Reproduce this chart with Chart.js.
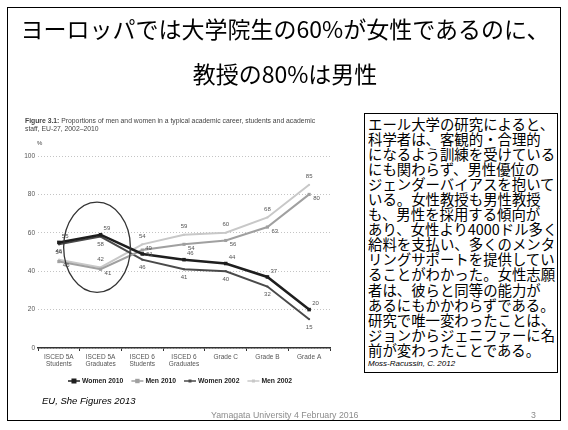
<!DOCTYPE html>
<html><head><meta charset="utf-8">
<script src="https://cdn.jsdelivr.net/npm/chart.js@4/dist/chart.umd.min.js"></script>
<style>
html,body{margin:0;padding:0;background:#fff;}
#slide{position:relative;width:568px;height:430px;overflow:hidden;font-family:"Noto Sans CJK JP","Noto Sans",sans-serif;}
#c{position:absolute;left:0;top:0;}
#frame{position:absolute;left:7px;top:7px;width:554px;height:414px;border:1.5px solid #000;box-sizing:border-box;}
.t{position:absolute;left:7px;width:556px;text-align:center;font-size:23px;color:#000;line-height:1;white-space:nowrap;}
#cap{position:absolute;left:25px;top:117px;font-family:"Liberation Sans",sans-serif;font-size:6.8px;line-height:7.5px;color:#444;white-space:nowrap;}
#pct{position:absolute;left:37px;top:140px;font-family:"Liberation Sans",sans-serif;font-size:6px;color:#444;}
#box{position:absolute;left:364px;top:113px;width:194px;height:260px;border:1px solid #000;box-sizing:border-box;padding:1.5px 0 0 3px;background:#fff;}
#box .jp{font-size:14.4px;line-height:15.1px;white-space:nowrap;color:#000;}
#box .cite{font-family:"Liberation Sans",sans-serif;font-style:italic;font-size:8px;color:#000;margin-top:2px;}
#src{position:absolute;left:42px;top:395px;font-family:"Liberation Sans",sans-serif;font-style:italic;font-size:9.5px;color:#000;}
#foot{position:absolute;left:211px;top:410px;font-family:"Liberation Sans",sans-serif;font-size:8.8px;color:#8c8c8c;}
#pg{position:absolute;left:531px;top:410px;font-family:"Liberation Sans",sans-serif;font-size:8.8px;color:#8c8c8c;}
</style></head>
<body><div id="slide">
<canvas id="c" width="568" height="430"></canvas>
<div id="frame"></div>
<div class="t" style="top:17px">ヨーロッパでは大学院生の60%が女性であるのに、</div>
<div class="t" style="top:62px">教授の80%は男性</div>
<div id="cap"><b>Figure 3.1:</b> Proportions of men and women in a typical academic career, students and academic<br>staff, EU-27, 2002–2010</div>
<div id="pct">%</div>
<div id="box"><div class="jp">エール大学の研究によると、<br>科学者は、客観的・合理的<br>になるよう訓練を受けている<br>にも関わらず、男性優位の<br>ジェンダーバイアスを抱いて<br>いる。女性教授も男性教授<br>も、男性を採用する傾向が<br>あり、女性より4000ドル多く<br>給料を支払い、多くのメンタ<br>リングサポートを提供してい<br>ることがわかった。女性志願<br>者は、彼らと同等の能力が<br>あるにもかかわらずである。<br>研究で唯一変わったことは、<br>ジョンからジェニファーに名<br>前が変わったことである。</div><div class="cite">Moss-Racussin, C. 2012</div></div>
<div id="src">EU, She Figures 2013</div>
<div id="foot">Yamagata University 4 February 2016</div>
<div id="pg">3</div>
</div>
<script>
const categories = [["ISCED 5A","Students"],["ISCED 5A","Graduates"],["ISCED 6","Students"],["ISCED 6","Graduates"],"Grade C","Grade B","Grade A"];
const seriesNames = ["Women 2010","Men 2010","Women 2002","Men 2002"];
const women2010 = [55,59,49,46,44,37,20];
const men2010 = [45,41,51,54,56,63,80];
const women2002 = [54,58,46,41,40,32,15];
const men2002 = [46,42,54,59,60,68,85];
const yMin = 0, yMax = 100, yStep = 20;

const styles = [
  {color:'#1e1e1e', width:2.5, r:2.5, fill:'#1e1e1e', lab:{align:'left', dx:3, dy:-6}},
  {color:'#a0a0a0', width:2, r:2.2, fill:'#a0a0a0', lab:{align:'left', dx:4, dy:4}},
  {color:'#4a4a4a', width:2, r:1.3, fill:'#4a4a4a', lab:{align:'center', dx:0, dy:8}},
  {color:'#c8c8c8', width:2, r:1.3, fill:'#c8c8c8', lab:{align:'center', dx:0, dy:-8}}
];
const values = [women2010, men2010, women2002, men2002];

const datasets = values.map((v,i)=>({
  label: seriesNames[i], data: v,
  borderColor: styles[i].color, backgroundColor: styles[i].fill,
  borderWidth: styles[i].width, pointStyle:'rect', pointRadius: styles[i].r,
  pointBorderWidth: 0, tension: 0, order: i
}));

const labelPlugin = {
  id:'labels',
  afterDatasetsDraw(chart){
    const ctx = chart.ctx;
    ctx.save();
    ctx.font = '6px "Liberation Sans", sans-serif';
    ctx.fillStyle = '#555';
    ctx.textBaseline = 'middle';
    chart.data.datasets.forEach((ds,i)=>{
      const meta = chart.getDatasetMeta(i);
      const L = styles[i].lab;
      ctx.textAlign = L.align;
      meta.data.forEach((pt,j)=>{
        ctx.fillText(String(ds.data[j]), pt.x + L.dx, pt.y + L.dy);
      });
    });
    ctx.restore();
  }
};

const ellipsePlugin = {
  id:'ellipse',
  afterDatasetsDraw(chart){
    const xs = chart.scales.x, ys = chart.scales.y;
    const slot = xs.getPixelForValue(1) - xs.getPixelForValue(0);
    const cx = xs.getPixelForValue(1) - 0.085*slot;
    const rx = 0.8*slot;
    const top = ys.getPixelForValue(76), bot = ys.getPixelForValue(29);
    const ctx = chart.ctx;
    ctx.save();
    ctx.strokeStyle = '#333'; ctx.lineWidth = 1.3;
    ctx.beginPath();
    ctx.ellipse(cx, (top+bot)/2, rx, (bot-top)/2, 0, 0, Math.PI*2);
    ctx.stroke();
    ctx.restore();
  }
};

const legendPlugin = {
  id:'mylegend',
  afterDraw(chart){
    const ctx = chart.ctx, ca = chart.chartArea;
    ctx.save();
    ctx.font = 'bold 6.8px "Liberation Sans", sans-serif';
    const lineW = 12, gap = 2, sep = 8;
    const widths = seriesNames.map(n => lineW + gap + ctx.measureText(n).width);
    const total = widths.reduce((a,b)=>a+b,0) + sep*(seriesNames.length-1);
    let x = (ca.left + ca.right)/2 - 4 - total/2;
    const y = ca.bottom + 33;
    seriesNames.forEach((n,i)=>{
      const s = styles[i];
      ctx.strokeStyle = s.color; ctx.lineWidth = 1.5;
      ctx.beginPath(); ctx.moveTo(x, y); ctx.lineTo(x+lineW, y); ctx.stroke();
      ctx.fillStyle = s.fill;
      const r = Math.max(s.r, 1.5);
      ctx.fillRect(x+lineW/2-r, y-r, 2*r, 2*r);
      ctx.fillStyle = '#222'; ctx.textBaseline='middle'; ctx.textAlign='left';
      ctx.fillText(n, x+lineW+gap, y);
      x += widths[i] + sep;
    });
    ctx.restore();
  }
};

new Chart(document.getElementById('c'), {
  type:'line',
  data:{labels:categories, datasets:datasets},
  options:{
    responsive:false, animation:false, devicePixelRatio:1,
    layout:{padding:{left:18, top:156, right:238, bottom:52}},
    plugins:{legend:{display:false}, tooltip:{enabled:false}},
    scales:{
      y:{min:yMin, max:yMax,
        ticks:{stepSize:yStep, font:{size:6.5, family:'"Liberation Sans", sans-serif'}, color:'#555', padding:3},
        grid:{color:'#c4c4c4', lineWidth:1, drawTicks:false},
        border:{display:false, dash:[1,2]},
        afterFit(s){ s.width = 20; }
      },
      x:{
        offset:true,
        ticks:{font:{size:6.5, family:'"Liberation Sans", sans-serif'}, color:'#555', maxRotation:0, autoSkip:false, padding:2},
        grid:{offset:true, drawOnChartArea:false, drawTicks:true, tickLength:3, color:'#333', lineWidth:1},
        border:{display:true, color:'#333', width:1.5},
        afterFit(s){ s.height = 30; }
      }
    }
  },
  plugins:[labelPlugin, ellipsePlugin, legendPlugin]
});
</script>
</body></html>
